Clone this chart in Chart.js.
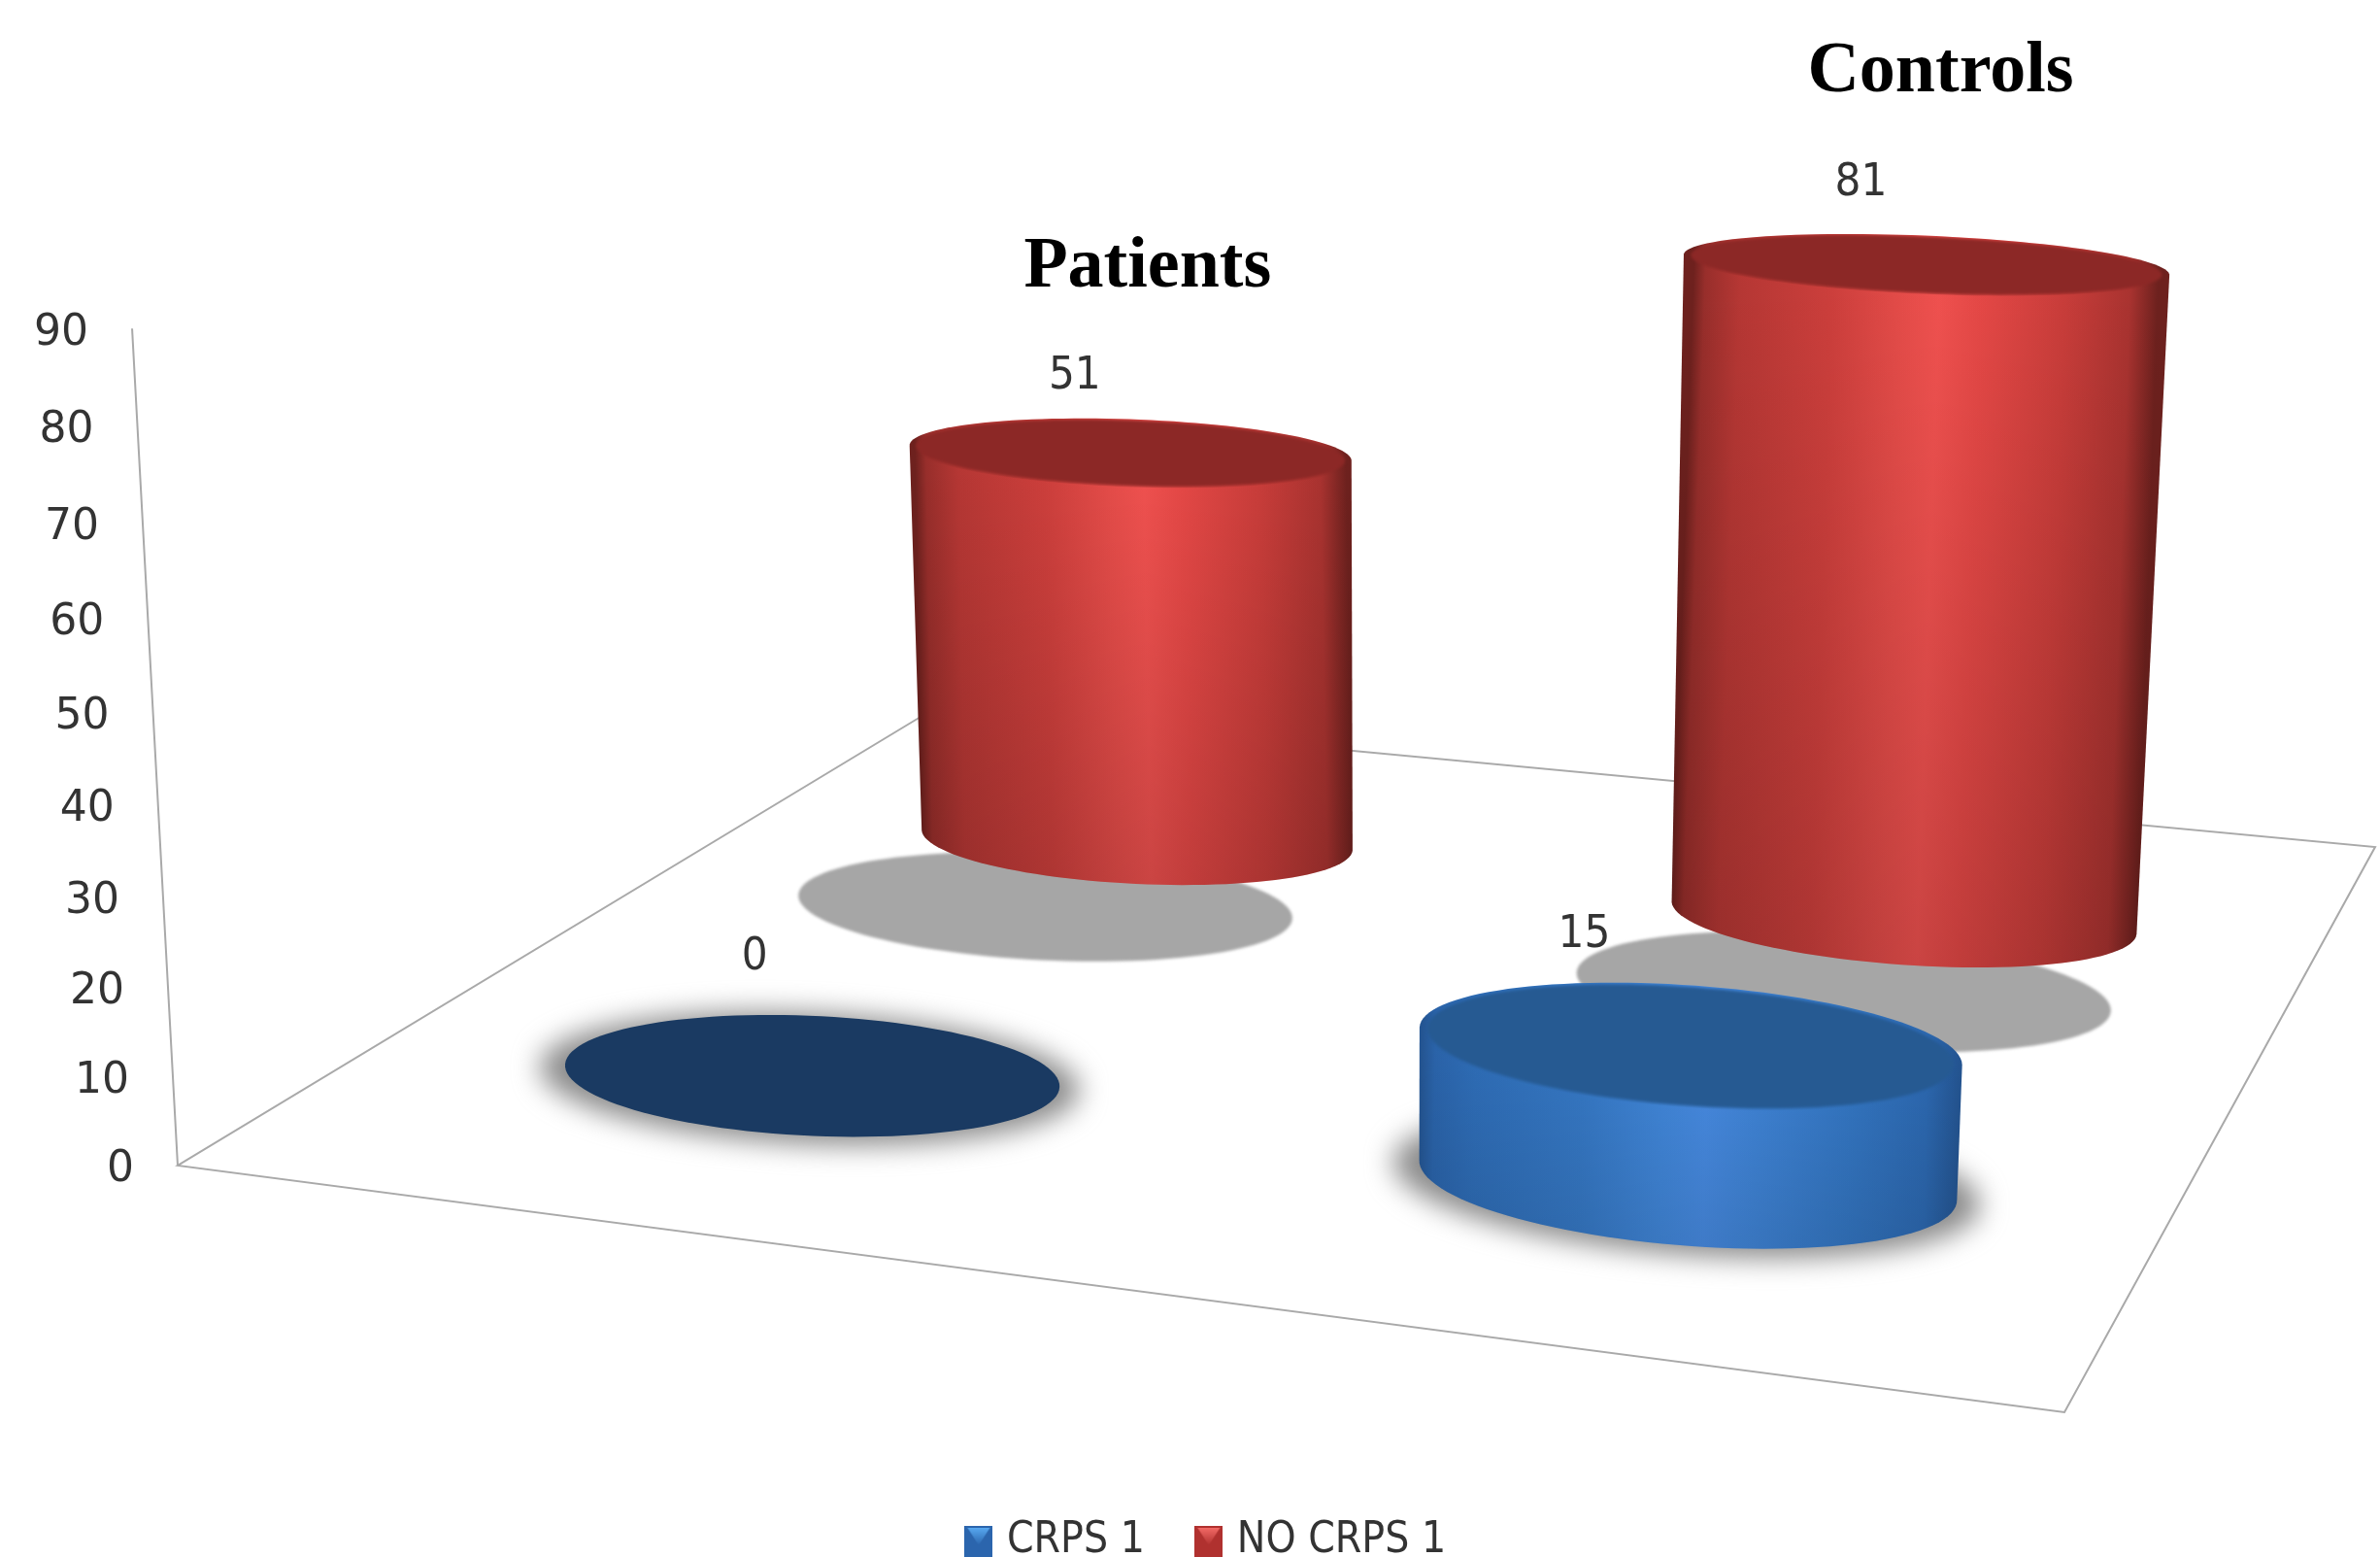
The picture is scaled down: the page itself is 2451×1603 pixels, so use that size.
<!DOCTYPE html>
<html>
<head>
<meta charset="utf-8">
<title>CRPS 1</title>
<script src="https://cdn.jsdelivr.net/npm/chart.js@4/dist/chart.umd.min.js"></script>
<style>
    html, body { margin: 0; padding: 0; background: #fff; }
    canvas { display: block; }
</style>
</head>
<body>
<canvas id="cylinderChart" width="2451" height="1603"></canvas>
<script>
// Data
const categories = ["Patients", "Controls"];
const crpsValues = [0, 15];
const noCrpsValues = [51, 81];
const seriesNames = ["CRPS 1", "NO CRPS 1"];
const yMax = 90;
const yStep = 10;

// Floor of the 3D box: front left, front right, back right, back left
const floorCorners = [[183, 1200], [2126, 1454], [2446, 872], [958, 732]];

// How a height in scale pixels leans and grows towards the camera
const cylinderLean = -0.088;
const axisLean = -0.0617;
const heightDepth = -6.13e-5;

// Cylinder radius in floor units
const radiusU = 0.1426;
const radiusV = 0.099;

const labelFont = '"DejaVu Sans Condensed", "DejaVu Sans", sans-serif';
const tickFont = '"DejaVu Sans", sans-serif';
const textColor = "#333333";

// Colour stops across the side of a cylinder
const sideStops = [0, 0.025, 0.1, 0.3, 0.45, 0.53, 0.62, 0.8, 0.94, 1];

const seriesStyles = [
    {
        side: ["#245592", "#2a63a9", "#2e6cb5", "#3577c3", "#4085d7", "#4689df", "#3f83d5", "#3375c1", "#2c68b0", "#245592"],
        face: "#265a92",
        zeroFace: "#1a3a62",
        shade: 0.1,
        shadow: { dv: -0.004, grow: 1.09, color: "#8a8a8a", blur: 14 }
    },
    {
        side: ["#6e211e", "#982e2b", "#b63734", "#cd3f3c", "#e54c49", "#f0514f", "#e54846", "#c93d3a", "#aa3330", "#6e211e"],
        face: "#8c2826",
        zeroFace: "#8c2826",
        shade: 0.16,
        shadow: { dv: -0.157, grow: 1.1, color: "#a6a6a6", blur: 1.5 }
    }
];

// Label positions relative to the centre of each cylinder top, [series][category]
const valueNudge = [[[-58, -120], [-107, -112]], [[-56, -78], [-65, -83]]];
const titleNudge = [[19, -190], [17, -197]];

// Projective map from floor coordinates (0..1) to canvas pixels
function buildHomography(c) {
    const [A, B, C, D] = c;
    const dx1 = B[0] - C[0], dx2 = D[0] - C[0], sx = A[0] - B[0] + C[0] - D[0];
    const dy1 = B[1] - C[1], dy2 = D[1] - C[1], sy = A[1] - B[1] + C[1] - D[1];
    const den = dx1 * dy2 - dx2 * dy1;
    const g = (sx * dy2 - dx2 * sy) / den;
    const h = (dx1 * sy - sx * dy1) / den;
    return {
        a: B[0] - A[0] + g * B[0], b: D[0] - A[0] + h * D[0], c: A[0],
        d: B[1] - A[1] + g * B[1], e: D[1] - A[1] + h * D[1], f: A[1],
        g, h
    };
}

const H = buildHomography(floorCorners);

function project(u, v, z, lean = cylinderLean) {
    const w = H.g * u + H.h * v + 1 + heightDepth * z;
    return {
        x: (H.a * u + H.b * v + H.c + lean * z) / w,
        y: (H.d * u + H.e * v + H.f - z) / w
    };
}

function ring(u, v, z, grow = 1) {
    const pts = [];
    for (let i = 0; i < 120; i++) {
        const t = i / 120 * Math.PI * 2;
        pts.push(project(u + radiusU * grow * Math.cos(t), v + radiusV * grow * Math.sin(t), z));
    }
    return pts;
}

function tracePolygon(ctx, pts) {
    ctx.beginPath();
    pts.forEach((p, i) => i ? ctx.lineTo(p.x, p.y) : ctx.moveTo(p.x, p.y));
    ctx.closePath();
}

function extremes(pts) {
    let left = 0, right = 0;
    pts.forEach((p, i) => {
        if (p.x < pts[left].x) left = i;
        if (p.x > pts[right].x) right = i;
    });
    return { left, right };
}

function arc(pts, from, to) {
    const out = [];
    for (let i = from; ; i = (i + 1) % pts.length) {
        out.push(pts[i]);
        if (i === to) break;
    }
    return out;
}

function barsOf(chart) {
    const area = chart.chartArea;
    const bars = [];
    chart.data.datasets.forEach((ds, s) => {
        chart.getDatasetMeta(s).data.forEach((bar, c) => {
            bars.push({
                s, c,
                value: ds.data[c],
                u: (bar.x - area.left) / area.width,
                v: (s + 0.5) / chart.data.datasets.length,
                z: bar.base - bar.y
            });
        });
    });
    return bars;
}

function drawBox(chart, ctx) {
    const y = chart.scales.y;
    const zero = y.getPixelForValue(0);
    const axisPoint = value => project(0, 0, zero - y.getPixelForValue(value), axisLean);
    const corners = floorCorners;

    ctx.save();
    ctx.strokeStyle = "#a9a9a9";
    ctx.lineWidth = 2;
    ctx.beginPath();
    ctx.moveTo(corners[3][0], corners[3][1]);
    corners.forEach(p => ctx.lineTo(p[0], p[1]));
    ctx.closePath();
    const top = axisPoint(yMax);
    ctx.moveTo(corners[0][0], corners[0][1]);
    ctx.lineTo(top.x, top.y);
    ctx.stroke();

    // Value axis labels follow the leaning axis
    ctx.fillStyle = textColor;
    ctx.font = "44px " + tickFont;
    ctx.textAlign = "right";
    ctx.textBaseline = "middle";
    y.ticks.forEach(tick => {
        const p = axisPoint(tick.value);
        ctx.fillText(String(tick.value), p.x - 45, p.y + 5);
    });
    ctx.restore();
}

function drawShadow(ctx, bar) {
    const sh = seriesStyles[bar.s].shadow;
    ctx.save();
    ctx.filter = `blur(${sh.blur}px)`;
    ctx.fillStyle = sh.color;
    tracePolygon(ctx, ring(bar.u, bar.v + sh.dv, 0, sh.grow));
    ctx.fill();
    ctx.restore();
}

function drawCylinder(ctx, bar) {
    const style = seriesStyles[bar.s];
    const base = ring(bar.u, bar.v, 0);
    const top = ring(bar.u, bar.v, bar.z);

    if (bar.z > 0) {
        const be = extremes(base), te = extremes(top);
        const outline = arc(base, be.left, be.right).concat(arc(top, te.right, te.left));
        const baseCentre = project(bar.u, bar.v, 0);
        const topCentre = project(bar.u, bar.v, bar.z);
        const shear = (topCentre.x - baseCentre.x) / (topCentre.y - baseCentre.y);
        const xl = base[be.left].x, xr = base[be.right].x;

        ctx.save();
        tracePolygon(ctx, outline);
        ctx.clip();

        // Side of the cylinder, lit from the middle, following its lean
        ctx.save();
        ctx.transform(1, 0, shear, 1, -shear * baseCentre.y, 0);
        const side = ctx.createLinearGradient(xl, 0, xr, 0);
        sideStops.forEach((stop, i) => side.addColorStop(stop, style.side[i]));
        ctx.fillStyle = side;
        ctx.fillRect(xl - 200, topCentre.y - 200, xr - xl + 400, baseCentre.y - topCentre.y + 500);
        ctx.restore();

        const fade = ctx.createLinearGradient(0, topCentre.y, 0, baseCentre.y + 60);
        fade.addColorStop(0, "rgba(0,0,0,0)");
        fade.addColorStop(1, `rgba(0,0,0,${style.shade})`);
        ctx.fillStyle = fade;
        ctx.fillRect(xl - 200, topCentre.y - 200, xr - xl + 400, baseCentre.y - topCentre.y + 500);
        ctx.restore();

        // Top face sits just inside the rim
        ctx.save();
        tracePolygon(ctx, top);
        ctx.clip();
        ctx.filter = "blur(1.5px)";
        ctx.fillStyle = style.face;
        tracePolygon(ctx, ring(bar.u, bar.v, bar.z, 0.97));
        ctx.fill();
        ctx.restore();
    } else {
        ctx.fillStyle = style.zeroFace;
        tracePolygon(ctx, top);
        ctx.fill();
    }
}

const legendDrop = 16;

const cylinderPlugin = {
    id: "cylinders",
    afterLayout(chart) {
        // Keep the legend row against the bottom of the page
        chart.legend.top += legendDrop;
        chart.legend.bottom += legendDrop;
    },
    beforeDatasetsDraw(chart) {
        const ctx = chart.ctx;
        const bars = barsOf(chart);
        // Back row first so the front row overlaps it
        const ordered = bars.slice().sort((p, q) => q.s - p.s || p.c - q.c);
        drawBox(chart, ctx);
        ordered.forEach(bar => drawShadow(ctx, bar));
        ordered.forEach(bar => drawCylinder(ctx, bar));
    },
    afterDatasetsDraw(chart) {
        const ctx = chart.ctx;
        ctx.save();
        ctx.textAlign = "center";
        ctx.textBaseline = "middle";
        barsOf(chart).forEach(bar => {
            const p = project(bar.u, bar.v, bar.z);
            const nudge = valueNudge[bar.s][bar.c];
            ctx.fillStyle = textColor;
            ctx.font = "47px " + labelFont;
            ctx.fillText(String(bar.value), p.x + nudge[0], p.y + nudge[1]);
            // Category names sit above the back row
            if (bar.s === chart.data.datasets.length - 1) {
                const t = titleNudge[bar.c];
                ctx.fillStyle = "#000";
                ctx.font = 'bold 74px "Liberation Serif", serif';
                ctx.fillText(chart.data.labels[bar.c], p.x + t[0], p.y + t[1]);
            }
        });
        ctx.restore();
    }
};

// Small square legend keys with a lighter wedge at the top
function legendIcon(dark, light) {
    const icon = document.createElement("canvas");
    icon.width = 29;
    icon.height = 32;
    const g = icon.getContext("2d");
    g.fillStyle = dark;
    g.fillRect(0, 0, 29, 32);
    const wedge = g.createLinearGradient(0, 2, 0, 20);
    wedge.addColorStop(0, light);
    wedge.addColorStop(1, dark);
    g.fillStyle = wedge;
    g.beginPath();
    g.moveTo(3, 2);
    g.lineTo(26, 2);
    g.lineTo(14.5, 20);
    g.closePath();
    g.fill();
    return icon;
}

const legendIcons = [legendIcon("#2b65ad", "#58a8f0"), legendIcon("#b0312f", "#f26a66")];

const chart = new Chart(document.getElementById("cylinderChart"), {
    type: "bar",
    data: {
        labels: categories,
        datasets: [
            { label: seriesNames[0], data: crpsValues, grouped: false, backgroundColor: "transparent" },
            { label: seriesNames[1], data: noCrpsValues, grouped: false, backgroundColor: "transparent" }
        ]
    },
    options: {
        responsive: false,
        animation: false,
        layout: { padding: { top: 320, left: 39 } },
        scales: {
            x: {
                grid: { display: false },
                border: { display: false },
                ticks: { display: false },
                afterFit: scale => { scale.height = 290; }
            },
            y: {
                min: 0,
                max: yMax,
                ticks: { display: false, stepSize: yStep },
                grid: { display: false },
                border: { display: false },
                afterFit: scale => { scale.width = 144; }
            }
        },
        plugins: {
            tooltip: { enabled: false },
            legend: {
                position: "bottom",
                labels: {
                    usePointStyle: true,
                    boxWidth: 14,
                    padding: 59,
                    color: textColor,
                    font: { family: labelFont, size: 44 },
                    generateLabels(c) {
                        return Chart.defaults.plugins.legend.labels.generateLabels(c).map((item, i) => {
                            item.pointStyle = legendIcons[i];
                            return item;
                        });
                    }
                }
            }
        }
    },
    plugins: [cylinderPlugin]
});
</script>
</body>
</html>
